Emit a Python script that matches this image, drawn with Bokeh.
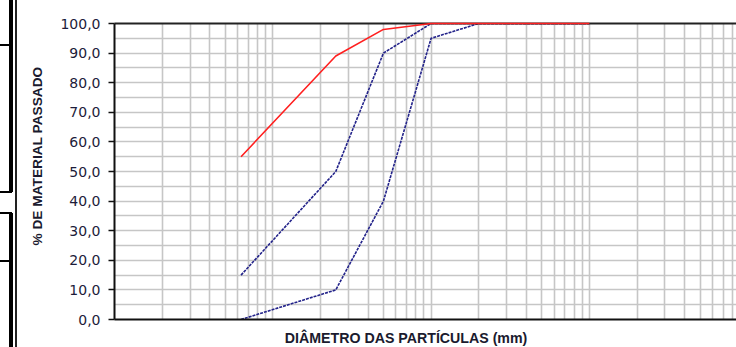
from bokeh.embed import file_html
from bokeh.layouts import row
from bokeh.models import Div, FixedTicker, Label, LogAxis, Range1d, Title
from bokeh.plotting import figure
from bokeh.resources import INLINE

# Aberturas das peneiras (mm)
diametros = [0.063, 0.25, 0.5, 1.0, 2.0, 4.0, 10.0]

# Curva granulométrica da amostra (% passante)
passante_amostra = [55.0, 89.0, 98.0, 100.0, 100.0, 100.0, 100.0]
# Limites da faixa granulométrica (% passante)
limite_superior = [15.0, 50.0, 90.0, 100.0, 100.0, 100.0, 100.0]
limite_inferior = [0.0, 10.0, 40.0, 95.0, 100.0, 100.0, 100.0]

# Eixo Y
ticks_y = [0, 10, 20, 30, 40, 50, 60, 70, 80, 90, 100]
rotulos_y = ["0,0", "10,0", "20,0", "30,0", "40,0", "50,0",
             "60,0", "70,0", "80,0", "90,0", "100,0"]
grade_y = [v * 5 for v in range(21)]

# Grade logarítmica do eixo X
decadas = [0.01, 0.1, 1.0, 10.0]
grade_x_menor = [m * d for d in decadas for m in range(2, 10)]

X_MIN, X_MAX = 0.01, 85.0
W, H = 736, 347
DECO_W = 17

GRID_COLOR = "#c6c6c6"
AZUL = "#23238a"
VERMELHO = "#ff1f1f"
TEXTO = "#1a1a2e"
FONTE = "Liberation Sans"

# ---- gráfico principal ----
p = figure(
    width=W - DECO_W, height=H,
    x_axis_type="log",
    x_range=Range1d(X_MIN, X_MAX), y_range=Range1d(0, 100),
    output_backend="svg", toolbar_location=None,
    min_border_left=113 - DECO_W, min_border_right=0,
    min_border_top=23, min_border_bottom=28,
    outline_line_color=None, background_fill_color="white",
    border_fill_color="white",
)

# grade
p.xgrid.ticker = FixedTicker(ticks=decadas, minor_ticks=grade_x_menor)
p.xgrid.grid_line_color = GRID_COLOR
p.xgrid.grid_line_width = 1.6
p.xgrid.minor_grid_line_color = GRID_COLOR
p.xgrid.minor_grid_line_width = 1.6
p.ygrid.ticker = FixedTicker(ticks=grade_y)
p.ygrid.grid_line_color = GRID_COLOR
p.ygrid.grid_line_width = 1.6

# eixo X sem marcas
p.xaxis.ticker = FixedTicker(ticks=[])
p.xaxis.axis_line_color = "#111111"
p.xaxis.axis_line_width = 2
p.xaxis.major_tick_line_color = None
p.xaxis.minor_tick_line_color = None
p.xaxis.major_tick_out = 0
p.xaxis.major_tick_in = 0
p.xaxis.major_label_standoff = 0

# borda superior
topo = LogAxis(ticker=FixedTicker(ticks=[]), axis_line_color="#222222",
               axis_line_width=2, major_tick_line_color=None,
               minor_tick_line_color=None, major_tick_out=0,
               major_tick_in=0, major_label_standoff=0)
p.add_layout(topo, "above")

# eixo Y
p.yaxis.ticker = FixedTicker(ticks=ticks_y)
p.yaxis.major_label_overrides = dict(zip(ticks_y, rotulos_y))
p.yaxis.axis_line_color = "#111111"
p.yaxis.axis_line_width = 2
p.yaxis.major_tick_line_color = "#111111"
p.yaxis.major_tick_line_width = 1.5
p.yaxis.major_tick_out = 6
p.yaxis.major_tick_in = 0
p.yaxis.minor_tick_line_color = None
p.yaxis.major_label_standoff = 8
p.yaxis.major_label_text_font = "DejaVu Sans"
p.yaxis.major_label_text_font_size = "14px"
p.yaxis.major_label_text_color = "#1c1c3a"

# curvas
p.line(diametros, limite_inferior, line_color=AZUL, line_width=1.6,
       line_dash="3 1")
p.line(diametros, limite_superior, line_color=AZUL, line_width=1.6,
       line_dash="3 1")
p.line(diametros, passante_amostra, line_color=VERMELHO, line_width=1.6,
       level="overlay")

# título do eixo X, no painel inferior
p.add_layout(Label(
    x=0.695, y=-6.25,
    text="DIÂMETRO DAS PARTÍCULAS (mm)",
    text_font=FONTE, text_font_size="14.2px", text_font_style="bold",
    text_color=TEXTO, text_align="center", text_baseline="middle",
), "below")

# título do eixo Y
p.add_layout(Title(
    text="% DE MATERIAL PASSADO", align="left", offset=74,
    vertical_align="middle", standoff=23,
    text_font=FONTE, text_font_size="13.7px", text_font_style="bold",
    text_color=TEXTO,
), "left")

# ---- moldura à esquerda (bordas da tabela do documento) ----
def barra(x, y, w, h, cor="#000"):
    return (f'<div style="position:absolute;left:{x}px;top:{y}px;'
            f'width:{w}px;height:{h}px;background:{cor};"></div>')

moldura = "".join([
    barra(9, 0, 4, 192),
    barra(9, 213, 4, H - 213),
    barra(15, 0, 1.5, H, "#222"),
    barra(0, 44, 12, 2),
    barra(0, 191, 12, 2),
    barra(0, 212, 12, 2),
    barra(0, 260, 12, 2),
])
deco = Div(text=f'<div style="position:relative;width:{DECO_W}px;'
                f'height:{H}px;">{moldura}</div>',
           width=DECO_W, height=H, margin=0)

layout = row(deco, p)
open("out.html", "w").write(file_html(layout, INLINE))
